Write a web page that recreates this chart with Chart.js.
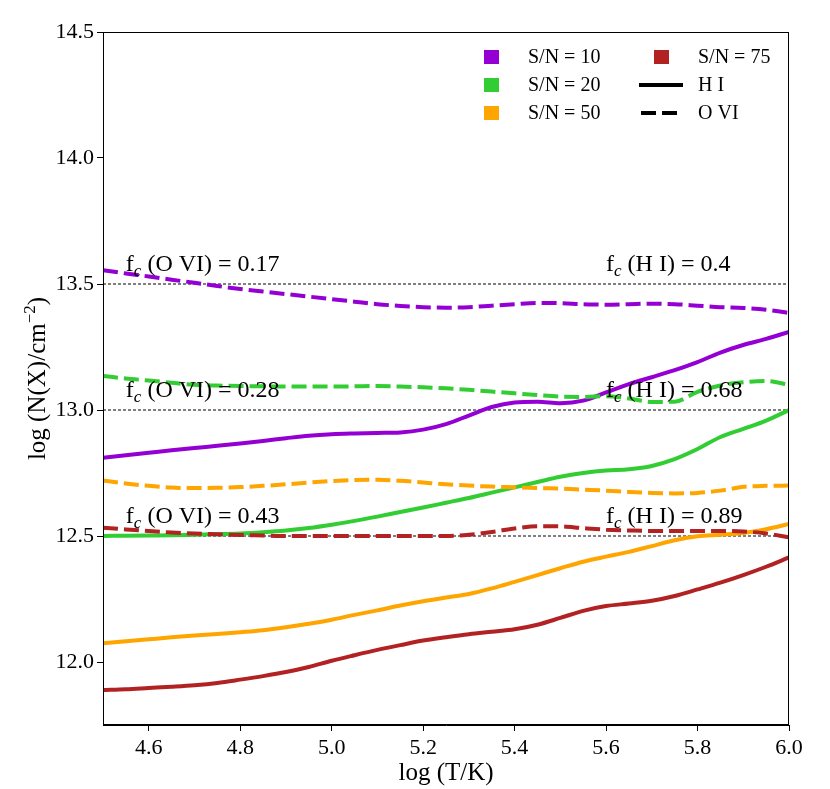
<!DOCTYPE html>
<html>
<head>
<meta charset="utf-8">
<script src="https://cdn.jsdelivr.net/npm/chart.js@4.4.0/dist/chart.umd.min.js"></script>
<style>
html,body{margin:0;padding:0;background:#fff;}
#wrap{width:830px;height:789px;}
</style>
</head>
<body>
<div id="wrap"><canvas id="c" width="830" height="789"></canvas></div>
<script>
// ---- data ----
const logT = [4.50,4.55,4.60,4.65,4.70,4.75,4.80,4.85,4.90,4.95,5.00,5.05,5.10,5.15,5.20,5.25,5.30,5.35,5.40,5.45,5.50,5.55,5.60,5.65,5.70,5.75,5.80,5.85,5.90,5.95,6.00];
const hi_sn10 = [12.810,12.820,12.830,12.840,12.849,12.858,12.867,12.877,12.888,12.898,12.904,12.907,12.909,12.911,12.922,12.944,12.978,13.012,13.030,13.033,13.027,13.037,13.070,13.103,13.130,13.158,13.190,13.228,13.258,13.282,13.310];
const ovi_sn10 = [13.555,13.542,13.530,13.517,13.505,13.492,13.480,13.470,13.460,13.450,13.440,13.430,13.420,13.413,13.408,13.406,13.408,13.414,13.420,13.425,13.424,13.420,13.418,13.420,13.422,13.420,13.414,13.408,13.405,13.398,13.385];
const hi_sn20 = [12.500,12.501,12.502,12.503,12.505,12.507,12.510,12.515,12.522,12.532,12.545,12.560,12.577,12.595,12.613,12.632,12.651,12.672,12.693,12.714,12.735,12.750,12.760,12.765,12.778,12.805,12.845,12.893,12.925,12.958,13.000];
const ovi_sn20 = [13.135,13.125,13.117,13.108,13.100,13.097,13.095,13.094,13.093,13.093,13.093,13.094,13.095,13.093,13.090,13.086,13.080,13.073,13.066,13.059,13.053,13.052,13.055,13.046,13.032,13.033,13.072,13.097,13.110,13.115,13.100];
const hi_sn50 = [12.074,12.082,12.090,12.098,12.105,12.111,12.118,12.126,12.138,12.152,12.168,12.187,12.205,12.224,12.241,12.256,12.270,12.292,12.318,12.345,12.372,12.398,12.418,12.437,12.460,12.483,12.499,12.505,12.512,12.527,12.548];
const ovi_sn50 = [12.720,12.708,12.699,12.692,12.690,12.691,12.694,12.699,12.705,12.712,12.718,12.722,12.723,12.719,12.712,12.705,12.700,12.696,12.693,12.690,12.688,12.684,12.680,12.675,12.671,12.669,12.671,12.680,12.695,12.699,12.700];
const hi_sn75 = [11.889,11.892,11.897,11.902,11.908,11.917,11.930,11.944,11.960,11.980,12.005,12.027,12.048,12.067,12.085,12.098,12.110,12.120,12.130,12.148,12.175,12.203,12.222,12.232,12.243,12.262,12.288,12.315,12.345,12.378,12.415];
const ovi_sn75 = [12.533,12.526,12.520,12.514,12.510,12.507,12.504,12.502,12.500,12.500,12.500,12.500,12.500,12.500,12.500,12.500,12.505,12.516,12.530,12.539,12.538,12.531,12.525,12.522,12.520,12.520,12.520,12.520,12.518,12.510,12.495];

const snLabels = ['S/N = 10','S/N = 20','S/N = 50','S/N = 75'];
const snColors = ['#9400D3','#32CD32','#FFA500','#B22222'];
const refLevels = [13.5, 13.0, 12.5];
const fcOVI = ['0.17','0.28','0.43'];
const fcHI = ['0.4','0.68','0.89'];
const xTicks = [4.6,4.8,5.0,5.2,5.4,5.6,5.8,6.0];
const yTicks = [12.0,12.5,13.0,13.5,14.0,14.5];
const xRange = [4.5, 6.0];
const yRange = [11.75, 14.5];

// ---- build datasets ----
const pts = arr => arr.map((v,i)=>({x:logT[i], y:v}));
const series = [
  [hi_sn10, ovi_sn10],[hi_sn20, ovi_sn20],[hi_sn50, ovi_sn50],[hi_sn75, ovi_sn75]
];
const datasets = [];
refLevels.forEach((lv)=>{
  datasets.push({data:[{x:xRange[0],y:lv},{x:xRange[1],y:lv}], borderColor:'#000', borderWidth:1,
    borderDash:[3,2], pointRadius:0, tension:0, order:100});
});
let k = 0;
series.forEach((pair, si)=>{
  pair.forEach((arr, j)=>{
    datasets.push({data:pts(arr), borderColor:snColors[si], borderWidth:4, pointRadius:0,
      borderDash: j===1 ? [15,6] : [], borderCapStyle:'butt', tension:0.3,
      cubicInterpolationMode:'monotone', order: -k});
    k++;
  });
});

const FONT = '"Liberation Serif", "Times New Roman", serif';

const deco = {
  id:'deco',
  afterDatasetsDraw(chart){
    const ctx = chart.ctx, a = chart.chartArea, xs = chart.scales.x, ys = chart.scales.y;
    ctx.save();
    // frame
    ctx.strokeStyle='#000'; ctx.lineWidth=1;
    ctx.strokeRect(a.left+0.5, a.top+0.5, a.right-a.left-1, a.bottom-a.top-1);
    // fc annotations
    ctx.fillStyle='#000'; ctx.textBaseline='alphabetic'; ctx.textAlign='left';
    const drawFc = (x, y, rest) => {
      ctx.font = '24px '+FONT;
      ctx.fillText('f', x, y);
      let w = ctx.measureText('f').width;
      ctx.font = 'italic 17px '+FONT;
      ctx.fillText('c', x+w, y+5);
      w += ctx.measureText('c').width;
      ctx.font = '24px '+FONT;
      ctx.fillText(rest, x+w, y);
    };
    refLevels.forEach((lv,i)=>{
      const py = ys.getPixelForValue(lv+0.05);
      drawFc(xs.getPixelForValue(4.55), py, ' (O VI) = '+fcOVI[i]);
      drawFc(xs.getPixelForValue(5.6), py, ' (H I) = '+fcHI[i]);
    });
    // legend
    ctx.font = '20px '+FONT; ctx.textBaseline='middle';
    const rowsY = [57, 85, 113];
    for(let r=0;r<3;r++){
      ctx.fillStyle = snColors[r];
      ctx.fillRect(484, rowsY[r]-7, 15, 14);
      ctx.fillStyle='#000';
      ctx.fillText(snLabels[r], 528, rowsY[r]+1);
    }
    ctx.fillStyle = snColors[3];
    ctx.fillRect(654, rowsY[0]-7, 15, 14);
    ctx.fillStyle='#000';
    ctx.fillText(snLabels[3], 698, rowsY[0]+1);
    ctx.strokeStyle='#000'; ctx.lineWidth=4; ctx.lineCap='butt';
    ctx.beginPath(); ctx.moveTo(639, rowsY[1]); ctx.lineTo(683, rowsY[1]); ctx.stroke();
    ctx.fillText('H I', 698, rowsY[1]+1);
    ctx.setLineDash([15,6]);
    ctx.beginPath(); ctx.moveTo(641, rowsY[2]); ctx.lineTo(677, rowsY[2]); ctx.stroke();
    ctx.setLineDash([]);
    ctx.fillText('O VI', 698, rowsY[2]+1);
    // axis titles
    ctx.font = '25px '+FONT; ctx.textAlign='center'; ctx.textBaseline='alphabetic';
    ctx.fillText('log (T/K)', (a.left+a.right)/2, 780);
    ctx.save();
    ctx.translate(45, (a.top+a.bottom)/2);
    ctx.rotate(-Math.PI/2);
    ctx.textAlign='left';
    const p1 = 'log (N(X)/cm', p2 = '\u22122', p3 = ')';
    ctx.font = '25px '+FONT; const w1 = ctx.measureText(p1).width, w3 = ctx.measureText(p3).width;
    ctx.font = '17px '+FONT; const w2 = ctx.measureText(p2).width;
    let sx = -(w1+w2+w3)/2;
    ctx.font = '25px '+FONT; ctx.fillText(p1, sx, 0); sx += w1;
    ctx.font = '17px '+FONT; ctx.fillText(p2, sx, -10); sx += w2;
    ctx.font = '25px '+FONT; ctx.fillText(p3, sx, 0);
    ctx.restore();
    ctx.restore();
  }
};

new Chart(document.getElementById('c'), {
  type:'line',
  data:{datasets},
  options:{
    responsive:false, animation:false, devicePixelRatio:1,
    layout:{padding:{left:0, right:41, top:32, bottom:0}},
    plugins:{legend:{display:false}, tooltip:{enabled:false}},
    scales:{
      x:{type:'linear', min:xRange[0], max:xRange[1],
        afterBuildTicks(s){ s.ticks = xTicks.map(v=>({value:v})); },
        afterFit(s){ s.height = 64; },
        grid:{display:true, drawOnChartArea:false, drawTicks:true, tickLength:6, color:'#000', lineWidth:1},
        border:{display:true, color:'#000', width:1},
        ticks:{autoSkip:false, maxRotation:0, padding:4, color:'#000', font:{family:FONT, size:22},
          callback:v=>Number(v).toFixed(1)}
      },
      y:{type:'linear', min:yRange[0], max:yRange[1],
        afterBuildTicks(s){ s.ticks = yTicks.map(v=>({value:v})); },
        afterFit(s){ s.width = 103; },
        grid:{display:true, drawOnChartArea:false, drawTicks:true, tickLength:6, color:'#000', lineWidth:1},
        border:{display:true, color:'#000', width:1},
        ticks:{autoSkip:false, padding:3, color:'#000', font:{family:FONT, size:22},
          callback:v=>Number(v).toFixed(1)}
      }
    }
  },
  plugins:[deco]
});
</script>
</body>
</html>
